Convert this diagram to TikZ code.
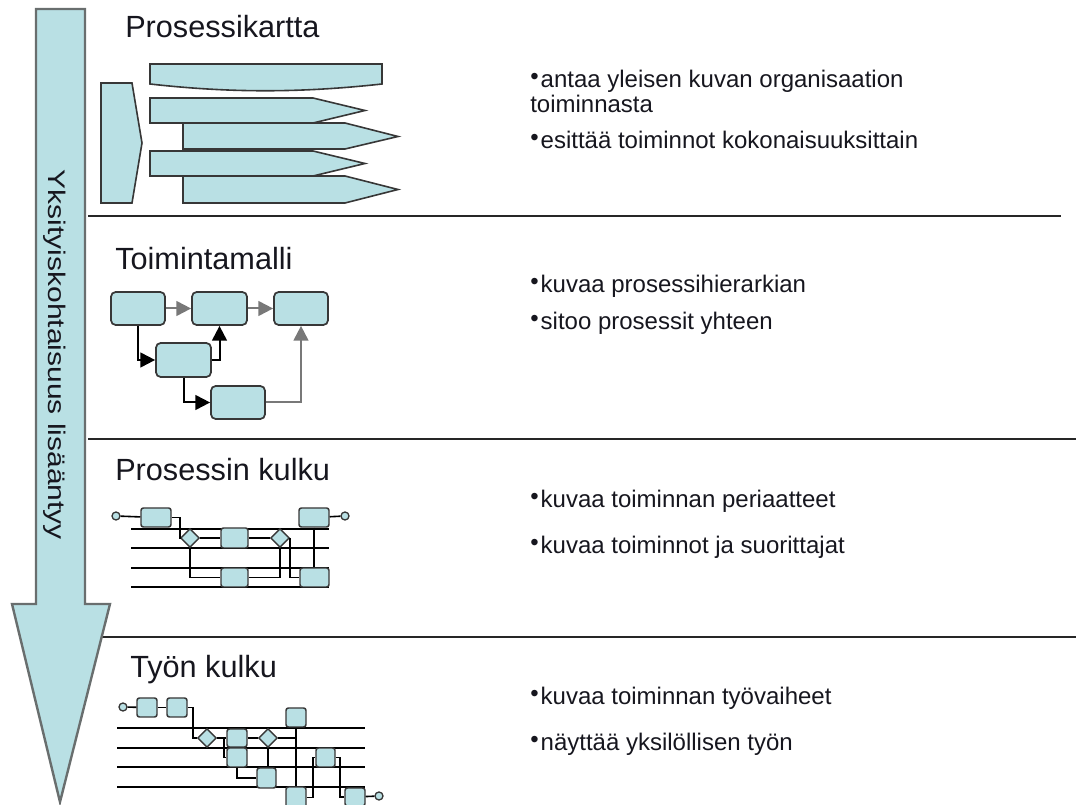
\documentclass[tikz,border=0pt]{standalone}
\usepackage{fontspec}
\setmainfont{Liberation Sans}
\usetikzlibrary{arrows.meta,shapes.geometric,fit}
\definecolor{boxfill}{RGB}{185,224,228}
\definecolor{boxline}{RGB}{55,55,55}
\definecolor{arrline}{RGB}{105,110,110}
\definecolor{txt}{RGB}{22,22,30}
\definecolor{greyline}{RGB}{120,120,120}
\newcommand\pxu{0.75pt}
\newcommand\bul{\raisebox{2.6pt}{•}\hspace{1.5pt}}
\tikzset{
  shape1/.style={fill=boxfill, draw=boxline, line width=1.2pt, line join=miter},
  sepline/.style={draw=black!85, line width=1.5pt},
  heading/.style={anchor=base west, inner sep=0pt, text=txt, font=\fontsize{23}{27}\selectfont},
  body/.style={anchor=base west, inner sep=0pt, text=txt, font=\fontsize{18}{22}\selectfont},
  bigbox/.style={fill=boxfill, draw=boxline, line width=1.3pt, rounded corners=3.5pt, inner sep=0pt},
  smallbox/.style={fill=boxfill, draw=boxline, line width=1.1pt, rounded corners=1.8pt, inner sep=0pt},
  gate/.style={diamond, fill=boxfill, draw=boxline, line width=1.1pt, inner sep=0pt,
               minimum width=19*\pxu, minimum height=19*\pxu},
  endpt/.style={circle, fill=boxfill, draw=boxline, line width=1pt, inner sep=0pt,
                minimum size=8*\pxu},
  lane/.style={draw=black, line width=1.3pt},
  wire/.style={draw=black, line width=1.2pt},
  flow/.style={draw=black, line width=1.5pt, -{Triangle[length=11pt,width=11pt]}},
  gflow/.style={flow, draw=greyline},
}
\begin{document}
\begin{tikzpicture}[x=0.75pt, y=-0.75pt]
\useasboundingbox (0,0) rectangle (1076,805);

% section separators
\draw[sepline] (88,216) -- (1061,216);
\draw[sepline] (88,439) -- (1076,439);
\draw[sepline] (88,637) -- (1076,637);

% big downward arrow with its label
\draw[fill=boxfill, draw=arrline, line width=1.8pt, line join=miter]
  (36,9) -- (85,9) -- (85,604) -- (110,604) -- (60,802) -- (12,604) -- (36,604) -- cycle;
\node[rotate=-90, anchor=base, inner sep=0pt, text=txt, font=\fontsize{18}{18}\selectfont]
  (axislabel) at (48,355) {\scalebox{1.25}[1]{Yksityiskohtaisuus lisääntyy}};

% ---------- Prosessikartta ----------
\node[heading] (h1) at (125,38) {Prosessikartta};
\draw[shape1] (101,83) -- (132,83) -- (142,143) -- (132,203) -- (101,203) -- cycle;
\draw[shape1] (150,64) -- (382,64) -- (382,84) .. controls (300,93) and (230,93) .. (150,84) -- cycle;
\draw[shape1] (150,98) -- (313,98) -- (365,110.5) -- (313,123) -- (150,123) -- cycle;
\draw[shape1] (183,123) -- (345,123) -- (398,136.5) -- (345,149) -- (183,149) -- cycle;
\draw[shape1] (150,151) -- (313,151) -- (365,163.5) -- (313,176) -- (150,176) -- cycle;
\draw[shape1] (183,176) -- (345,176) -- (398,189.5) -- (345,203) -- (183,203) -- cycle;

\node[body] (t1a) at (530,88) {\bul antaa yleisen kuvan organisaation};
\node[body] (t1b) at (530,113) {toiminnasta};
\node[body] (t1c) at (530,149) {\bul esittää toiminnot kokonaisuuksittain};

% ---------- Toimintamalli ----------
\node[heading] (h2) at (115,270) {Toimintamalli};
\node[bigbox, fit={(111,292) (165,325)}] (ma) {};
\node[bigbox, fit={(192,292) (247,325)}] (mb) {};
\node[bigbox, fit={(274,292) (328,325)}] (mc) {};
\node[bigbox, fit={(156,343) (211,377)}] (md) {};
\node[bigbox, fit={(211,386) (265,419)}] (me) {};
\draw[gflow] (ma) -- (mb);
\draw[gflow] (mb) -- (mc);
\draw[flow] (ma.south) |- (md.west);
\draw[flow] (md.east) -| (mb.south);
\draw[flow] (md.south) |- (me.west);
\draw[gflow] (me.east) -| (mc.south);

\node[body] (t2a) at (530,293) {\bul kuvaa prosessihierarkian};
\node[body] (t2b) at (530,330) {\bul sitoo prosessit yhteen};

% ---------- Prosessin kulku ----------
\node[heading] (h3) at (115,481) {Prosessin kulku};
\foreach \y in {529,548,568,587} \draw[lane] (131,\y) -- (329,\y);
\node[endpt] (pc0) at (116,516) {};
\node[smallbox, fit={(141,508) (171,527)}] (pb1) {};
\node[gate] (pd1) at (190,538) {};
\node[smallbox, fit={(221,528) (248,548)}] (pb2) {};
\node[smallbox, fit={(221,568) (248,587)}] (pb3) {};
\node[gate] (pd2) at (280,538) {};
\node[smallbox, fit={(299,508) (329,527)}] (pb4) {};
\node[smallbox, fit={(300,568) (329,587)}] (pb5) {};
\node[endpt] (pc1) at (345,516) {};
\draw[wire] (pc0) -- (pb1);
\draw[wire] (pb1.east) -- ++(8,0) |- (pd1.west);
\draw[wire] (pd1) -- (pb2);
\draw[wire] (pd1.south) |- (pb3.west);
\draw[wire] (pb2) -- (pd2);
\draw[wire] (pb3.east) -| (pd2.south);
\draw[wire] (pd2.east) |- (pb5.west);
\draw[wire] (pb4.south) -- (pb4.south |- pb5.north);
\draw[wire] (pb4) -- (pc1);

\node[body] (t3a) at (530,508) {\bul kuvaa toiminnan periaatteet};
\node[body] (t3b) at (530,554) {\bul kuvaa toiminnot ja suorittajat};

% ---------- Työn kulku ----------
\node[heading] (h4) at (130,678) {Työn kulku};
\foreach \y in {728,748,767,787} \draw[lane] (117,\y) -- (365,\y);
\node[endpt] (tc0) at (123,707) {};
\node[smallbox, fit={(137,698) (157,717)}] (tb1) {};
\node[smallbox, fit={(167,698) (187,717)}] (tb2) {};
\node[gate] (td1) at (207,738) {};
\node[smallbox, fit={(227,729) (247,747)}] (tb3) {};
\node[smallbox, fit={(227,748) (247,767)}] (tb4) {};
\node[gate] (td2) at (268,738) {};
\node[smallbox, fit={(257,768) (276,788)}] (tb5) {};
\node[smallbox, fit={(286,708) (306,727)}] (tb6) {};
\node[smallbox, fit={(286,787) (306,808)}] (tb7) {};
\node[smallbox, fit={(316,748) (335,767)}] (tb8) {};
\node[smallbox, fit={(345,788) (365,806)}] (tb9) {};
\node[endpt] (tc1) at (379,796) {};
\draw[wire] (tc0) -- (tb1);
\draw[wire] (tb1) -- (tb2);
\draw[wire] (tb2.east) -- ++(5,0) |- (td1.west);
\draw[wire] (td1) -- (tb3);
\draw[wire] (td1.east) -- ++(7,0) |- (tb4.west);
\draw[wire] (tb3) -- (td2);
\draw[wire] (td2.south) -- (td2.south |- tb5.north);
\draw[wire] (tb4.south) |- (tb5.west);
\draw[wire] (td2.east) -- (td2.east -| tb6.south);
\draw[wire] (tb6) -- (tb7);
\draw[wire] (tb7.east) -- ++(6,0) |- (tb8.west);
\draw[wire] (tb8.east) -- ++(4,0) |- (tb9.west);
\draw[wire] (tb9) -- (tc1);

\node[body] (t4a) at (530,705) {\bul kuvaa toiminnan työvaiheet};
\node[body] (t4b) at (530,751) {\bul näyttää yksilöllisen työn};
\end{tikzpicture}
\end{document}
